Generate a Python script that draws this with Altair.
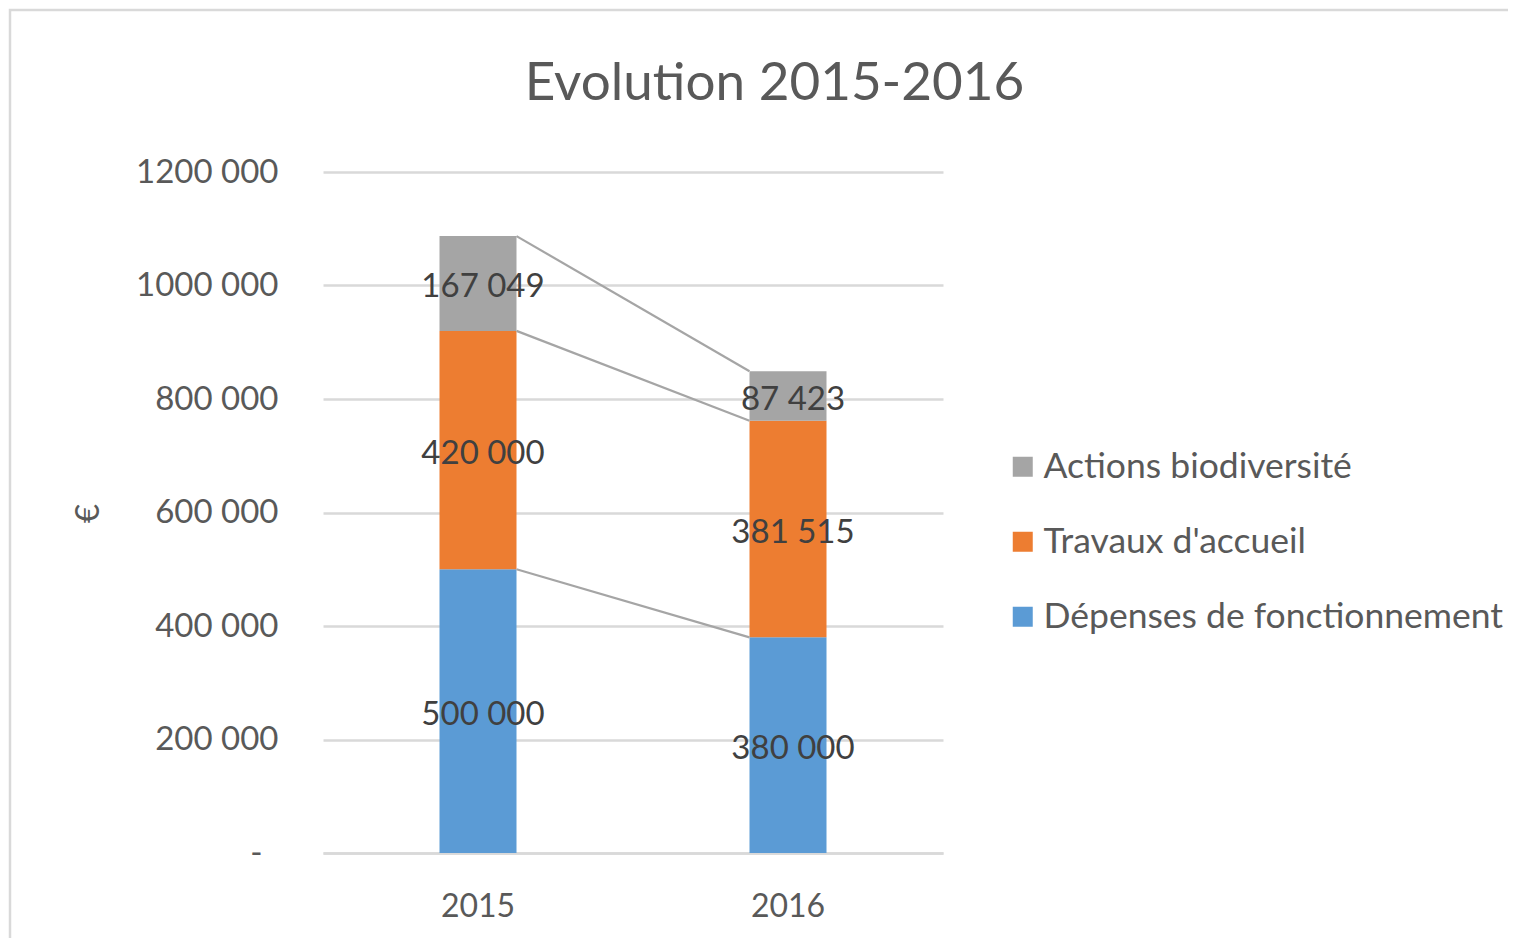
import altair as alt
import pandas as pd

years = ["2015", "2016"]
series = ["Dépenses de fonctionnement", "Travaux d'accueil", "Actions biodiversité"]
depenses = [500000, 380000]
travaux = [420000, 381515]
actions = [167049, 87423]
legend_order = ["Actions biodiversité", "Travaux d'accueil", "Dépenses de fonctionnement"]
colors = ["#a5a5a5", "#ed7d31", "#5b9bd5"]
title_text = "Evolution 2015-2016"

FONT = "Lato"
values_by_series = [depenses, travaux, actions]

rows = []
for si, (name, vals) in enumerate(zip(series, values_by_series)):
    for yi, yr in enumerate(years):
        rows.append({"year": yr, "series": name, "ord": si, "value": vals[yi],
                     "label": f"{vals[yi]:,}".replace(",", " ")})
df = pd.DataFrame(rows)

# series lines connecting cumulative tops
line_rows = []
for si, name in enumerate(series):
    tops = [sum(values_by_series[k][yi] for k in range(si + 1)) for yi in range(len(years))]
    line_rows.append({"from": years[0], "to": years[1], "y1": tops[0], "y2": tops[1], "series": name})
ldf = pd.DataFrame(line_rows)

xscale = alt.Scale(domain=years, paddingInner=0, paddingOuter=0)
xenc = alt.X("year:N", title=None, scale=xscale,
             axis=alt.Axis(labelAngle=0, ticks=False, domain=True, domainColor="#d9d9d9",
                           domainWidth=2.5, labelFontSize=32, labelColor="#595959",
                           labelPadding=38, labelFont=FONT, grid=False))
yscale = alt.Scale(domain=[0, 1200000], nice=False)

bars = alt.Chart(df).mark_bar(size=77).encode(
    x=xenc,
    y=alt.Y("value:Q", stack="zero", scale=yscale, title="€",
            axis=alt.Axis(values=[0, 200000, 400000, 600000, 800000, 1000000, 1200000],
                          labelExpr="datum.value == 0 ? '-' : floor(datum.value/1000) + ' 000'",
                          ticks=False, domain=False, gridColor="#d9d9d9", gridWidth=2.5,
                          labelFontSize=33, labelColor="#595959",
                          labelPadding={"condition": {"test": "datum.value == 0", "value": 61}, "value": 45},
                          labelFont=FONT,
                          titleFontSize=33, titleColor="#595959", titleFontWeight="normal",
                          titleFont=FONT, titleAngle=-90, titleX=-235, titleY=341,
                          titleAlign="center", titleBaseline="middle")),
    color=alt.Color("series:N", scale=alt.Scale(domain=legend_order, range=colors),
                    legend=alt.Legend(title=None, orient="none", legendX=682, legendY=277,
                                      symbolType="square", symbolSize=400, symbolStrokeWidth=0,
                                      labelFontSize=35.5, labelColor="#595959", labelFont=FONT,
                                      rowPadding=38, labelOffset=3, labelLimit=0)),
    order=alt.Order("ord:Q", sort="ascending"),
)

lines = alt.Chart(ldf).mark_rule(color="#a5a5a5", strokeWidth=2.2, xOffset=38.5, x2Offset=-38.5).encode(
    x=alt.X("from:N", scale=xscale),
    x2="to:N",
    y=alt.Y("y1:Q", scale=yscale),
    y2="y2:Q",
)

labels = alt.Chart(df).transform_stack(
    stack="value", groupby=["year"], as_=["v0", "v1"],
    sort=[alt.SortField("ord", order="ascending")]
).transform_calculate(mid="(datum.v0 + datum.v1) / 2").mark_text(
    fontSize=33, color="#404040", font=FONT, dx=5, dy=4, baseline="middle", align="center"
).encode(
    x=alt.X("year:N", scale=xscale),
    y=alt.Y("mid:Q", scale=yscale),
    text="label:N",
)

title = alt.Chart(pd.DataFrame({"t": [title_text]})).mark_text(
    fontSize=53, font=FONT, color="#595959", align="center", baseline="middle"
).encode(x=alt.value(451.5), y=alt.value(-88), text="t:N")

border = alt.Chart(pd.DataFrame({"a": [0]})).mark_rect(
    fill=None, stroke="#d9d9d9", strokeWidth=2.5, clip=False
).encode(x=alt.value(-313), x2=alt.value(1300), y=alt.value(-162), y2=alt.value(900))

chart = alt.layer(border, title, bars, lines, labels).properties(
    width=620, height=681,
    autosize=alt.AutoSizeParams(type="none"),
    padding={"left": 315, "top": 164, "right": 565, "bottom": 85},
).configure_view(stroke=None).resolve_scale(x="shared", y="shared")

chart.save("out.html", embed_options={"renderer": "svg", "actions": False})
